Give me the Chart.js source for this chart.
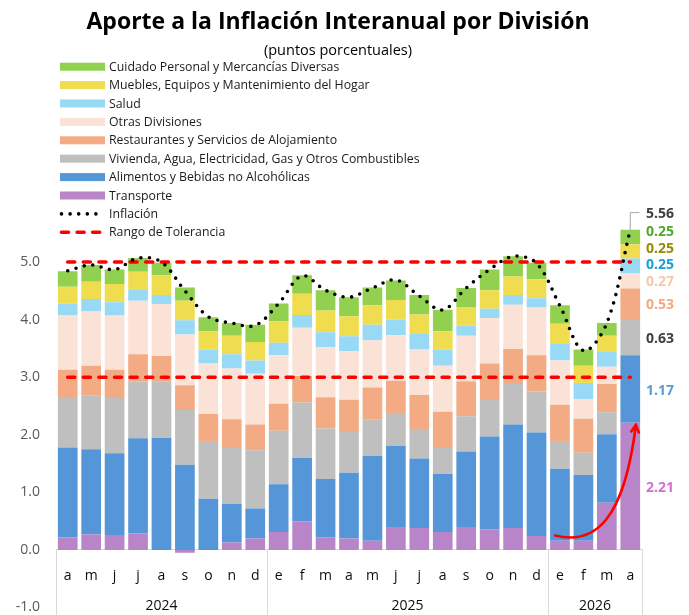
<!DOCTYPE html>
<html>
<head>
<meta charset="utf-8">
<script src="https://cdn.jsdelivr.net/npm/chart.js@4.4.1/dist/chart.umd.min.js"></script>
<style>
  html, body { margin: 0; padding: 0; background: #fff; }
  #wrap { position: relative; width: 689px; height: 615px; }
</style>
</head>
<body>
<div id="wrap"><canvas id="aporteChart" width="689" height="615"></canvas></div>
<script>
// --- data (puntos porcentuales), abr-2024 .. abr-2026
const months = ['a','m','j','j','a','s','o','n','d','e','f','m','a','m','j','j','a','s','o','n','d','e','f','m','a'];
const yearLabels = ['2024', '2025', '2026'];
const yearSpans = [9, 12, 4];

const transporte   = [0.22,0.27,0.26,0.29,0.00,-0.05,0.00,0.13,0.20, 0.31,0.50,0.22,0.20,0.16,0.40,0.38,0.31,0.40,0.36,0.38,0.24, 0.16,0.16,0.82,2.21];
const alimentos    = [1.56,1.48,1.42,1.65,1.95,1.48,0.89,0.67,0.52, 0.83,1.10,1.01,1.14,1.47,1.41,1.21,1.01,1.31,1.61,1.80,1.80, 1.25,1.14,1.19,1.17];
const vivienda     = [0.86,0.93,0.96,0.99,0.97,0.95,1.00,0.99,1.01, 0.93,0.96,0.88,0.71,0.63,0.57,0.51,0.47,0.61,0.65,0.70,0.71, 0.48,0.39,0.38,0.63];
const restaurantes = [0.49,0.52,0.49,0.47,0.45,0.43,0.47,0.48,0.45, 0.47,0.46,0.54,0.56,0.56,0.56,0.59,0.61,0.61,0.62,0.61,0.63, 0.63,0.59,0.49,0.53];
const otras        = [0.94,0.94,0.94,0.93,0.90,0.88,0.88,0.88,0.88, 0.84,0.84,0.87,0.84,0.82,0.79,0.79,0.80,0.79,0.79,0.77,0.83, 0.77,0.34,0.30,0.27];
const salud        = [0.21,0.22,0.23,0.20,0.16,0.25,0.24,0.25,0.23, 0.22,0.22,0.26,0.26,0.27,0.27,0.27,0.28,0.18,0.16,0.17,0.16, 0.30,0.28,0.27,0.25];
const muebles      = [0.29,0.30,0.32,0.30,0.34,0.34,0.32,0.32,0.32, 0.37,0.37,0.38,0.35,0.34,0.34,0.34,0.32,0.31,0.32,0.32,0.33, 0.34,0.30,0.27,0.25];
const cuidado      = [0.27,0.29,0.25,0.24,0.22,0.23,0.24,0.22,0.30, 0.31,0.32,0.35,0.33,0.31,0.34,0.34,0.37,0.34,0.36,0.35,0.29, 0.32,0.28,0.22,0.25];

const inflacion    = [4.85,4.95,4.87,5.07,5.00,4.50,4.05,3.94,3.90, 4.28,4.76,4.51,4.39,4.55,4.69,4.41,4.17,4.55,4.87,5.10,4.98, 4.24,3.46,3.94,5.56];
const rangoSup     = [5,5,5,5,5,5,5,5,5, 5,5,5,5,5,5,5,5,5,5,5,5, 5,5,5,5];
const rangoInf     = [3,3,3,3,3,3,3,3,3, 3,3,3,3,3,3,3,3,3,3,3,3, 3,3,3,3];

const yTicks = [-1, 0, 1, 2, 3, 4, 5];

// red arrow annotation, in (category index, value) units
const arrowPath = [[20.79, 0.25], [22.5, 0.08], [23.73, 0.51], [24.24, 2.17]];

const FONT = '"Open Sans", sans-serif';

// stack order: bottom -> top
const barSets = [
    { label: 'Transporte', data: transporte, color: '#b886c8', labelColor: '#d46fce' },
    { label: 'Alimentos y Bebidas no Alcohólicas', data: alimentos, color: '#5596d8', labelColor: '#5b9bd5' },
    { label: 'Vivienda, Agua, Electricidad, Gas y Otros Combustibles', data: vivienda, color: '#bfbfbf', labelColor: '#404040' },
    { label: 'Restaurantes y Servicios de Alojamiento', data: restaurantes, color: '#f3ab84', labelColor: '#f2aa80' },
    { label: 'Otras Divisiones', data: otras, color: '#fbe2d6', labelColor: '#f8c6a9' },
    { label: 'Salud', data: salud, color: '#98d9f5', labelColor: '#19a0dc' },
    { label: 'Muebles, Equipos y Mantenimiento del Hogar', data: muebles, color: '#efdc4f', labelColor: '#978c00' },
    { label: 'Cuidado Personal y Mercancías Diversas', data: cuidado, color: '#92d050', labelColor: '#52a62e' }
];

const datasets = barSets.map((s, i) => ({
    type: 'bar',
    label: s.label,
    data: s.data,
    backgroundColor: s.color,
    borderWidth: 0,
    stack: 'div',
    order: 3,
    labelColor: s.labelColor,
    legendRank: barSets.length - 1 - i,
    barPercentage: 0.84,
    categoryPercentage: 1.0
}));

datasets.push({
    type: 'line',
    label: 'Inflación',
    data: inflacion,
    borderColor: '#000',
    borderWidth: 3.6,
    borderDash: [0, 8.6],
    borderCapStyle: 'round',
    pointRadius: 0,
    tension: 0.35,
    stack: 'infl',
    order: 0,
    legendRank: 8
});
datasets.push({
    type: 'line',
    label: 'Rango de Tolerancia',
    data: rangoSup,
    borderColor: '#ff0000',
    borderWidth: 3.6,
    borderDash: [7, 8.6],
    borderCapStyle: 'round',
    pointRadius: 0,
    stack: 'tolSup',
    order: 1,
    legendRank: 9
});
datasets.push({
    type: 'line',
    label: 'Rango de Tolerancia (inferior)',
    data: rangoInf,
    borderColor: '#ff0000',
    borderWidth: 3.6,
    borderDash: [7, 8.6],
    borderCapStyle: 'round',
    pointRadius: 0,
    stack: 'tolInf',
    order: 1,
    legendRank: -1
});

// title, legend, year groups, last-bar labels, arrow
const decorPlugin = {
    id: 'decor',
    afterDraw(chart) {
        const { ctx, chartArea, scales: { x, y } } = chart;
        ctx.save();

        // title
        ctx.fillStyle = '#000';
        ctx.textAlign = 'center';
        ctx.textBaseline = 'alphabetic';
        ctx.font = 'bold 23px ' + FONT;
        ctx.fillText('Aporte a la Inflación Interanual por División', 338, 29);
        ctx.font = '14.5px ' + FONT;
        ctx.textBaseline = 'middle';
        ctx.fillText('(puntos porcentuales)', 338, 50.5);

        // legend
        const rows = chart.data.datasets
            .map((ds, i) => ({ ds, i }))
            .filter(r => r.ds.legendRank >= 0)
            .sort((a, b) => a.ds.legendRank - b.ds.legendRank);
        rows.forEach((r, k) => {
            const ly = 66.7 + k * 18.4;
            const ds = r.ds;
            if (ds.type === 'bar') {
                ctx.fillStyle = ds.backgroundColor;
                ctx.fillRect(60, ly - 4, 45, 8);
            } else {
                ctx.beginPath();
                ctx.setLineDash(ds.borderDash);
                ctx.lineCap = 'round';
                ctx.lineWidth = ds.borderWidth;
                ctx.strokeStyle = ds.borderColor;
                ctx.moveTo(61.5, ly);
                ctx.lineTo(ds.label === 'Inflación' ? 97.5 : 101, ly);
                ctx.stroke();
                ctx.setLineDash([]);
            }
            ctx.fillStyle = '#1a1a1a';
            ctx.font = '12.3px ' + FONT;
            ctx.textAlign = 'left';
            ctx.textBaseline = 'middle';
            ctx.fillText(ds.label, 109, ly + 0.5);
        });

        // year groups under the month letters
        const zeroY = y.getPixelForValue(0);
        const bounds = [chartArea.left];
        let idx = 0;
        yearSpans.forEach(n => {
            idx += n;
            bounds.push(idx >= months.length ? chartArea.right
                : (x.getPixelForValue(idx - 1) + x.getPixelForValue(idx)) / 2);
        });
        ctx.strokeStyle = '#d9d9d9';
        ctx.lineWidth = 1;
        bounds.forEach(bx => {
            const px = Math.round(bx) + 0.5;
            ctx.beginPath();
            ctx.moveTo(px, zeroY);
            ctx.lineTo(px, chart.height);
            ctx.stroke();
        });
        ctx.fillStyle = '#0d0d0d';
        ctx.font = '14px ' + FONT;
        ctx.textAlign = 'center';
        yearLabels.forEach((lbl, k) => {
            ctx.fillText(lbl, (bounds[k] + bounds[k + 1]) / 2, 606.5);
        });

        // labels for the latest month
        const last = months.length - 1;
        const labelX = 646;
        const gap = 16.8;
        let prevY = Infinity;
        let topY = Infinity;
        let barX = 0;
        ctx.font = 'bold 14px ' + FONT;
        ctx.textAlign = 'left';
        barSets.forEach((s, i) => {
            const el = chart.getDatasetMeta(i).data[last];
            let cy = (el.y + el.base) / 2 + 1.5;
            if (cy > prevY - gap) cy = prevY - gap;
            prevY = cy;
            topY = Math.min(topY, el.y);
            barX = el.x;
            ctx.fillStyle = s.labelColor;
            ctx.fillText(s.data[last].toFixed(2), labelX, cy);
        });
        const totY = Math.min(topY, prevY - gap - 1);
        ctx.strokeStyle = '#a6a6a6';
        ctx.lineWidth = 1;
        ctx.beginPath();
        ctx.moveTo(barX, topY);
        ctx.lineTo(barX, totY - 1.5);
        ctx.lineTo(labelX - 7, totY - 1.5);
        ctx.stroke();
        ctx.fillStyle = '#404040';
        ctx.fillText(inflacion[last].toFixed(2), labelX, totY);

        // red arrow
        const pts = arrowPath.map(p => [x.getPixelForValue(p[0]), y.getPixelForValue(p[1])]);
        ctx.strokeStyle = '#ff0000';
        ctx.lineWidth = 2.6;
        ctx.lineCap = 'round';
        ctx.beginPath();
        ctx.moveTo(pts[0][0], pts[0][1]);
        ctx.bezierCurveTo(pts[1][0], pts[1][1], pts[2][0], pts[2][1], pts[3][0], pts[3][1]);
        ctx.stroke();
        const ang = Math.atan2(pts[3][1] - pts[2][1], pts[3][0] - pts[2][0]);
        const hl = 8;
        ctx.beginPath();
        ctx.moveTo(pts[3][0] - hl * Math.cos(ang - 0.5), pts[3][1] - hl * Math.sin(ang - 0.5));
        ctx.lineTo(pts[3][0], pts[3][1]);
        ctx.lineTo(pts[3][0] - hl * Math.cos(ang + 0.5), pts[3][1] - hl * Math.sin(ang + 0.5));
        ctx.stroke();

        ctx.restore();
    }
};

document.addEventListener('DOMContentLoaded', function() {
    const ctx = document.getElementById('aporteChart').getContext('2d');
    Chart.defaults.font.family = FONT;

    new Chart(ctx, {
        data: { labels: months, datasets: datasets },
        plugins: [decorPlugin],
        options: {
            responsive: false,
            animation: false,
            events: [],
            layout: { padding: { top: 204.5, right: 47, bottom: 7.5, left: 0 } },
            scales: {
                x: {
                    stacked: true,
                    position: { y: 0 },
                    grid: { display: false, drawTicks: false },
                    border: { display: true, color: '#d9d9d9', width: 1 },
                    ticks: {
                        color: '#0d0d0d',
                        font: { size: 14 },
                        padding: 17.5,
                        autoSkip: false,
                        maxRotation: 0
                    },
                    afterFit: (axis) => {
                        axis.height = 0;
                        axis.paddingLeft = 0;
                        axis.paddingRight = 0;
                    }
                },
                y: {
                    stacked: true,
                    min: -1,
                    max: 6,
                    grid: { display: false, drawTicks: false },
                    border: { display: false },
                    afterBuildTicks: (axis) => { axis.ticks = yTicks.map(v => ({ value: v })); },
                    ticks: {
                        color: '#595959',
                        font: { size: 14 },
                        padding: 16,
                        callback: (v) => Number(v).toFixed(1)
                    },
                    afterFit: (axis) => {
                        axis.width = 56;
                        axis.paddingTop = 0;
                        axis.paddingBottom = 0;
                    }
                }
            },
            plugins: {
                legend: { display: false },
                tooltip: { enabled: false },
                title: { display: false }
            }
        }
    });
});
</script>
</body>
</html>
